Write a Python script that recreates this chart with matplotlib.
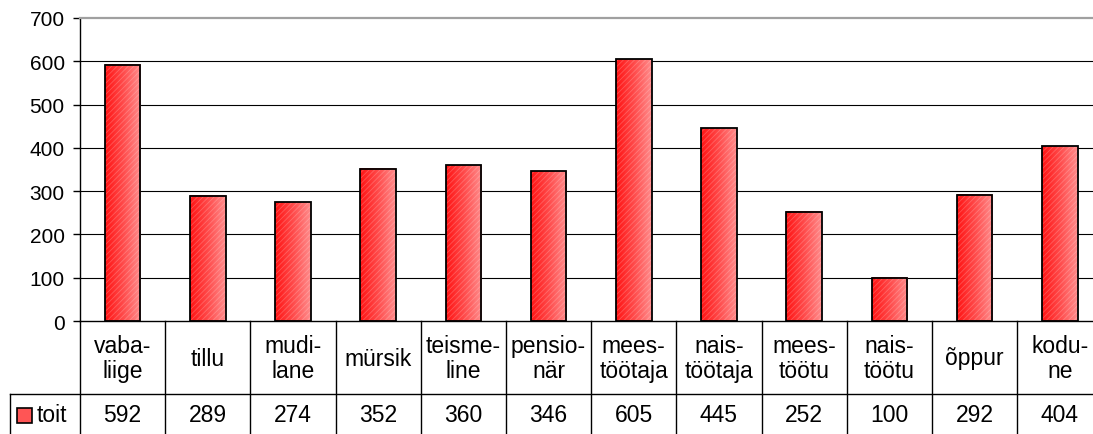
import numpy as np
import matplotlib.pyplot as plt
from matplotlib.colors import LinearSegmentedColormap
from matplotlib.transforms import blended_transform_factory
from matplotlib.patches import Rectangle

plt.rcParams['font.family'] = ['Liberation Sans', 'DejaVu Sans']
plt.rcParams['hatch.linewidth'] = 0.6

categories = ['vaba-\nliige', 'tillu', 'mudi-\nlane', 'mürsik', 'teisme-\nline',
              'pensio-\nnär', 'mees-\ntöötaja', 'nais-\ntöötaja', 'mees-\ntöötu',
              'nais-\ntöötu', 'õppur', 'kodu-\nne']
toit = [592, 289, 274, 352, 360, 346, 605, 445, 252, 100, 292, 404]
series_name = 'toit'
y_ticks = [0, 100, 200, 300, 400, 500, 600, 700]

W, H = 1093, 435
fig = plt.figure(figsize=(W / 100, H / 100), dpi=100)
# plot area in pixels: left 80, top 19, bottom 322, column width ~85.2
col_w = 85.2
ax_l, ax_t, ax_b = 80, 19, 322
ax = fig.add_axes([ax_l / W, (H - ax_b) / H, col_w * len(toit) / W, (ax_b - ax_t) / H])

red_cmap = LinearSegmentedColormap.from_list('bar_red', ['#ff1414', '#ff4a4a', '#ff8c8c'])
grad = np.linspace(0, 1, 64).reshape(1, -1)

x = np.arange(len(toit))
bw = 0.42
bars = ax.bar(x, toit, width=bw, facecolor='none', edgecolor='black', linewidth=1.3, zorder=4)
for b in bars:
    x0, h = b.get_x(), b.get_height()
    ax.imshow(grad, cmap=red_cmap, extent=[x0, x0 + bw, 0, h], aspect='auto', zorder=2)
# faint streaks over the fill
ax.bar(x, toit, width=bw, facecolor='none', edgecolor=(1, 1, 1, 0.22),
       linewidth=0, hatch='//////', zorder=3)

ax.set_xlim(-0.5, len(toit) - 0.5)
ax.set_ylim(0, 700)
ax.set_yticks(y_ticks)
ax.set_xticks([])
for v in y_ticks[1:-1]:
    ax.axhline(v, color='black', lw=0.8, zorder=1)
ax.tick_params(axis='y', direction='out', length=5, width=1, pad=6, labelsize=15)
for s in ['right', 'bottom']:
    ax.spines[s].set_visible(False)
ax.spines['top'].set_color('#a0a0a0')
ax.spines['top'].set_linewidth(1.6)
ax.spines['left'].set_linewidth(1)

# data table under the bars
tr = blended_transform_factory(ax.transData, ax.transAxes)
ax_h = ax_b - ax_t
row1 = -(395 - ax_b) / ax_h
row_end = -(H + 5 - ax_b) / ax_h
line_kw = dict(color='black', lw=1, transform=tr, clip_on=False, zorder=5)
ax.plot([-0.5, len(toit) + 1], [0, 0], **line_kw)
left_cell = -0.5 - (ax_l - 10) / col_w
ax.plot([left_cell, len(toit) + 1], [row1, row1], **line_kw)
ax.plot([left_cell, left_cell], [row1, row_end], **line_kw)
for i in range(len(toit) + 1):
    ax.plot([i - 0.5, i - 0.5], [0, row_end], **line_kw)

cat_y = -(359 - ax_b) / ax_h
val_y = -(416 - ax_b) / ax_h
for i, (c, v) in enumerate(zip(categories, toit)):
    ax.text(i, cat_y, c, transform=tr, ha='center', va='center', fontsize=16.5,
            linespacing=1.15, clip_on=False)
    ax.text(i, val_y, str(v), transform=tr, ha='center', va='center', fontsize=16.5,
            clip_on=False)

# legend key in the first cell of the value row
sw_x0, sw_x1 = 17 / W, 32 / W
sw_y0, sw_y1 = (H - 424) / H, (H - 409) / H
fig.add_artist(Rectangle((sw_x0, sw_y0), sw_x1 - sw_x0, sw_y1 - sw_y0, transform=fig.transFigure,
                         facecolor='#ff5555', edgecolor='black', lw=1.2, zorder=6))
fig.text(37 / W, (H - 416) / H, series_name, ha='left', va='center', fontsize=16.5)

fig.savefig('out.png', dpi=100)
